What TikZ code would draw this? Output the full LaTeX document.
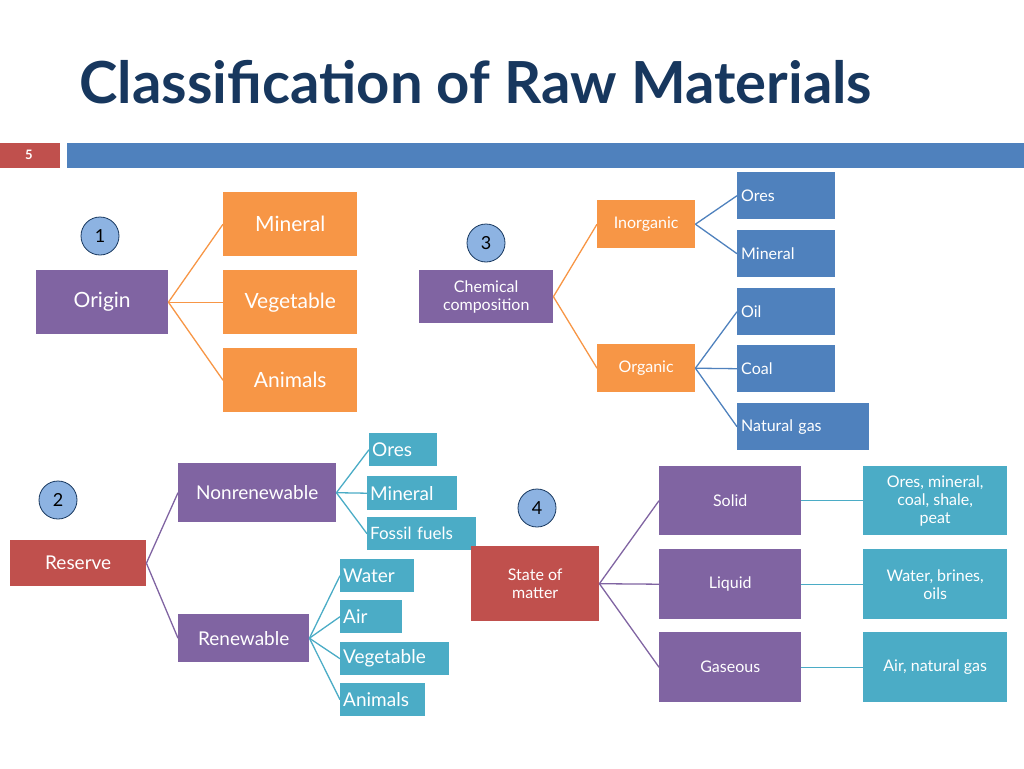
\documentclass[tikz,border=0pt]{standalone}
\usepackage{fontspec}
\setmainfont{Lato}
\usepackage{tikz}
\usetikzlibrary{positioning}
\definecolor{navy}{HTML}{17375E}
\definecolor{purp}{HTML}{8064A2}
\definecolor{oran}{HTML}{F79646}
\definecolor{blu}{HTML}{4F81BD}
\definecolor{redd}{HTML}{C0504D}
\definecolor{teal}{HTML}{4BACC6}
\definecolor{circ}{HTML}{8DB3E2}
% box from (x1,y1) to (x2,y2) in pixels
\newcommand\bx[7]{%
  \pgfmathsetmacro\bw{#4-#2}\pgfmathsetmacro\bh{#5-#3}%
  \node[#6,minimum width=\bw pt,minimum height=\bh pt,anchor=north west] (#1) at (#2,#3) {#7};}
\begin{document}
\begin{tikzpicture}[x=1pt,y=-1pt]
  \tikzstyle{box} = [rectangle, inner sep=2pt, text=white, font=\fontsize{16}{18}\selectfont]
  \tikzstyle{big} = [box, font=\fontsize{21}{24}\selectfont]
  \tikzstyle{leftbox} = [box, align=left, font=\fontsize{16}{19}\selectfont]
  \tikzstyle{num} = [circle, draw=navy, thick, fill=circ, minimum size=38pt, inner sep=0pt, font=\fontsize{18}{20}\selectfont]
  \tikzstyle{line} = [draw, line width=1.3pt]

  \useasboundingbox (0,0) rectangle (1024,768);
  \node[anchor=west, text=navy, font=\bfseries\fontsize{58}{62}\selectfont] (title) at (76,82) {Classification of Raw Materials};
  \fill[redd] (0,143) rectangle (60,168);
  \node[text=white, font=\bfseries\fontsize{13}{14}\selectfont] (pg) at (29,155) {5};
  \fill[blu] (67,143) rectangle (1024,168);

  % 1 origin
  \node[num] (n1) at (100,236) {1};
  \bx{origin}{36}{270}{168}{334}{big,fill=purp}{Origin}
  \bx{mine}{223}{192}{357}{256}{big,fill=oran}{Mineral}
  \bx{vege}{223}{270}{357}{334}{big,fill=oran}{Vegetable}
  \bx{anim}{223}{348}{357}{412}{big,fill=oran}{Animals}
  \foreach \t in {mine,vege,anim} \draw[line,oran] (origin.east) -- (\t.west);

  % 3 chemical composition
  \node[num] (n3) at (486,243) {3};
  \bx{chem}{419}{270}{553}{323}{box,fill=purp,align=center}{Chemical\\composition}
  \bx{inorg}{597}{200}{695}{248}{box,fill=oran}{Inorganic}
  \bx{org}{597}{344}{695}{392}{box,fill=oran}{Organic}
  \foreach \t in {inorg,org} \draw[line,oran] (chem.east) -- (\t.west);
  \bx{ores}{737}{172}{835}{219}{leftbox,fill=blu,text width=90pt}{Ores}
  \bx{minr}{737}{230}{835}{277}{leftbox,fill=blu,text width=90pt}{Mineral}
  \bx{oil}{737}{288}{835}{335}{leftbox,fill=blu,text width=90pt}{Oil}
  \bx{coal}{737}{345}{835}{392}{leftbox,fill=blu,text width=90pt}{Coal}
  \bx{gas}{737}{403}{869}{450}{leftbox,fill=blu,text width=124pt}{Natural gas}
  \foreach \t in {ores,minr} \draw[line,blu] (inorg.east) -- (\t.west);
  \foreach \t in {oil,coal,gas} \draw[line,blu] (org.east) -- (\t.west);

  % 2 reserve
  \node[num] (n2) at (58,500) {2};
  \bx{reserve}{10}{540}{146}{586}{box,fill=redd,font=\fontsize{19}{22}\selectfont}{Reserve}
  \bx{nonren}{178}{463}{336}{522}{box,fill=purp,font=\fontsize{19}{22}\selectfont}{Nonrenewable}
  \bx{ren}{178}{614}{309}{662}{box,fill=purp,font=\fontsize{19}{22}\selectfont}{Renewable}
  \foreach \t in {nonren,ren} \draw[line,purp] (reserve.east) -- (\t.west);
  \bx{rores}{369}{433}{437}{466}{leftbox,fill=teal,text width=62pt,font=\fontsize{19}{22}\selectfont}{Ores}
  \bx{rmin}{367}{476}{457}{510}{leftbox,fill=teal,text width=84pt,font=\fontsize{19}{22}\selectfont}{Mineral}
  \bx{fossil}{367}{517}{476}{550}{leftbox,fill=teal,text width=103pt,font=\fontsize{17}{20}\selectfont}{Fossil fuels}
  \bx{water}{340}{559}{414}{592}{leftbox,fill=teal,text width=68pt,font=\fontsize{19}{22}\selectfont}{Water}
  \bx{air}{340}{600}{402}{633}{leftbox,fill=teal,text width=56pt,font=\fontsize{19}{22}\selectfont}{Air}
  \bx{rveg}{340}{642}{449}{675}{leftbox,fill=teal,text width=103pt,font=\fontsize{19}{22}\selectfont}{Vegetable}
  \bx{rani}{340}{683}{425}{716}{leftbox,fill=teal,text width=79pt,font=\fontsize{19}{22}\selectfont}{Animals}
  \foreach \t in {rores,rmin,fossil} \draw[line,teal] (nonren.east) -- (\t.west);
  \foreach \t in {water,air,rveg,rani} \draw[line,teal] (ren.east) -- (\t.west);

  % 4 state of matter
  \node[num] (n4) at (537,508) {4};
  \bx{state}{471}{546}{599}{621}{box,fill=redd,align=center}{State of\\matter}
  \bx{solid}{659}{466}{801}{535}{box,fill=purp}{Solid}
  \bx{liquid}{659}{549}{801}{619}{box,fill=purp}{Liquid}
  \bx{gaseous}{659}{632}{801}{702}{box,fill=purp}{Gaseous}
  \foreach \t in {solid,liquid,gaseous} \draw[line,purp] (state.east) -- (\t.west);
  \bx{ssol}{863}{466}{1007}{535}{box,fill=teal,align=center}{Ores, mineral,\\coal, shale,\\peat}
  \bx{sliq}{863}{549}{1007}{619}{box,fill=teal,align=center}{Water, brines,\\oils}
  \bx{sgas}{863}{632}{1007}{702}{box,fill=teal}{Air, natural gas}
  \draw[line,teal] (solid) -- (ssol);
  \draw[line,teal] (liquid) -- (sliq);
  \draw[line,teal] (gaseous) -- (sgas);
\end{tikzpicture}
\end{document}
